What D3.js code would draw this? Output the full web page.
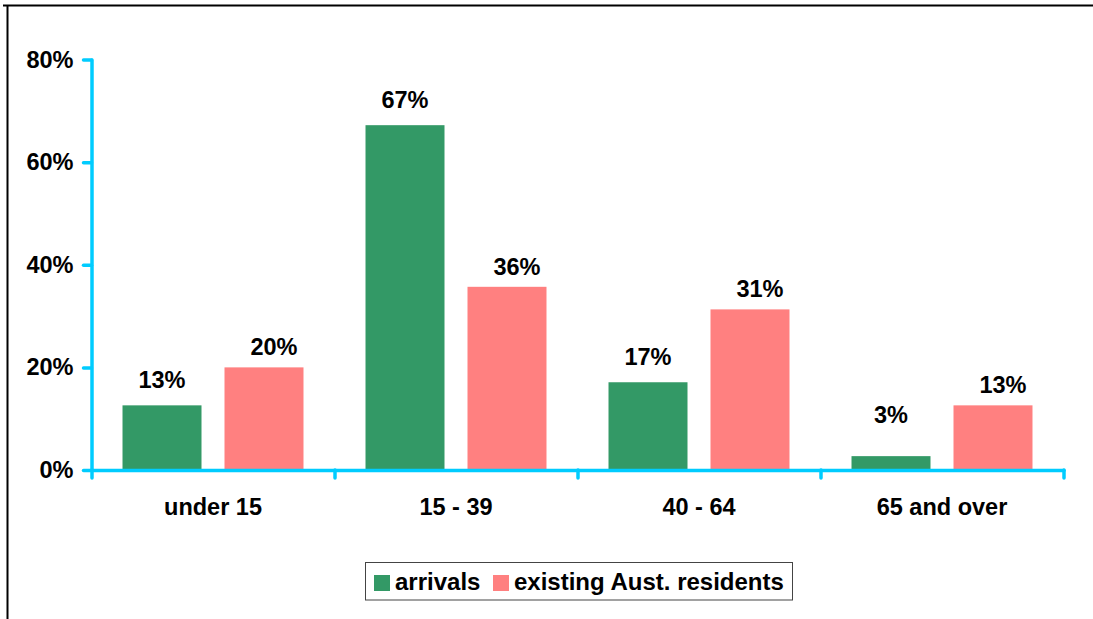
<!DOCTYPE html>
<html>
<head>
<meta charset="utf-8">
<script src="https://cdn.jsdelivr.net/npm/d3@7"></script>
<style>
  body { margin: 0; background: #fff; }
  svg text { font-family: "Liberation Sans", Arial, sans-serif; font-weight: bold; fill: #000; }
</style>
</head>
<body>
<div id="chart"></div>
<script>
// age groups and the two series (shares)
var categories = ["under 15", "15 - 39", "40 - 64", "65 and over"];
var seriesNames = ["arrivals", "existing Aust. residents"];
var arrivals = [0.126, 0.672, 0.171, 0.027];
var residents = [0.200, 0.357, 0.313, 0.126];
var yTicks = [0, 0.2, 0.4, 0.6, 0.8];

var colors = { "arrivals": "#339966", "existing Aust. residents": "#FF8080" };
var axisColor = "#00CCFF";

var W = 1093, H = 619;
var plotLeft = 91.5, plotRight = 1063.5, plotTop = 59.5, plotBottom = 470;
var fs = "23.5px";

var svg = d3.select("#chart").append("svg")
  .attr("width", W)
  .attr("height", H);

// outer frame (top and left edges show)
svg.append("line").attr("x1", 3).attr("x2", W).attr("y1", 5.5).attr("y2", 5.5)
  .attr("stroke", "#000").attr("stroke-width", 2);
svg.append("line").attr("x1", 7.5).attr("x2", 7.5).attr("y1", 5).attr("y2", H)
  .attr("stroke", "#000").attr("stroke-width", 2);

var y = d3.scaleLinear().domain([0, 0.8]).range([plotBottom, plotTop]);
var x = d3.scaleBand().domain(categories).range([plotLeft, plotRight]);
var xSub = d3.scaleBand().domain(seriesNames).range([0, x.bandwidth()])
  .paddingInner(0.2255).paddingOuter(0.304);

// rows of data
var rows = categories.map(function(c, i) {
  return { cat: c, values: [
    { name: seriesNames[0], v: arrivals[i] },
    { name: seriesNames[1], v: residents[i] }
  ]};
});

var groups = svg.selectAll(".grp")
  .data(rows)
  .enter().append("g")
  .attr("class", "grp")
  .attr("transform", function(d) { return "translate(" + x(d.cat) + ",0)"; });

groups.selectAll("rect")
  .data(function(d) { return d.values; })
  .enter().append("rect")
  .attr("x", function(d) { return xSub(d.name); })
  .attr("y", function(d) { return y(d.v); })
  .attr("width", xSub.bandwidth())
  .attr("height", function(d) { return plotBottom - y(d.v); })
  .attr("fill", function(d) { return colors[d.name]; });

// value labels
groups.selectAll(".lbl")
  .data(function(d) { return d.values; })
  .enter().append("text")
  .attr("class", "lbl")
  .attr("text-anchor", "middle")
  .style("font-size", fs)
  .attr("x", function(d) {
    var cx = xSub(d.name) + xSub.bandwidth() / 2;
    return d.name === seriesNames[1] ? cx + 10 : cx;
  })
  .attr("y", function(d) {
    var off = d.name === seriesNames[1] ? 12 : 17;
    return Math.min(y(d.v) - off, plotBottom - 47);
  })
  .text(function(d) { return Math.round(d.v * 100) + "%"; });

// y axis
var yAxis = svg.append("g")
  .attr("transform", "translate(" + plotLeft + ",0)")
  .call(d3.axisLeft(y).tickValues(yTicks).tickFormat(d3.format(".0%"))
    .tickSize(8).tickSizeOuter(0).tickPadding(10));

// x axis: boundary ticks
var xb = d3.scaleLinear().domain([0, categories.length]).range([plotLeft, plotRight]);
var xAxis = svg.append("g")
  .attr("transform", "translate(0," + plotBottom + ")")
  .call(d3.axisBottom(xb).tickValues(d3.range(categories.length + 1))
    .tickFormat("").tickSize(8).tickSizeOuter(0));

// category labels
var xLab = svg.append("g")
  .attr("transform", "translate(0," + plotBottom + ")")
  .call(d3.axisBottom(x).tickSize(0).tickPadding(28));
xLab.select(".domain").remove();

[yAxis, xAxis].forEach(function(a) {
  a.selectAll("path, line")
    .attr("stroke", axisColor)
    .attr("stroke-width", 3.5)
    .attr("stroke-linecap", "round");
});
svg.selectAll(".tick text")
  .attr("fill", "#000")
  .style("font-size", fs)
  .style("font-family", "'Liberation Sans', Arial, sans-serif")
  .style("font-weight", "bold");

// legend
var legend = svg.append("g").attr("transform", "translate(365.5,562.5)");
legend.append("rect")
  .attr("width", 427).attr("height", 37.5)
  .attr("fill", "#fff").attr("stroke", "#444").attr("stroke-width", 1);
var legX = [8.5, 127.5];
seriesNames.forEach(function(s, i) {
  legend.append("rect")
    .attr("x", legX[i]).attr("y", 12.5)
    .attr("width", 16).attr("height", 16)
    .attr("fill", colors[s]);
  legend.append("text")
    .attr("x", legX[i] + 21).attr("y", 27)
    .style("font-size", "24px")
    .text(s);
});
</script>
</body>
</html>
